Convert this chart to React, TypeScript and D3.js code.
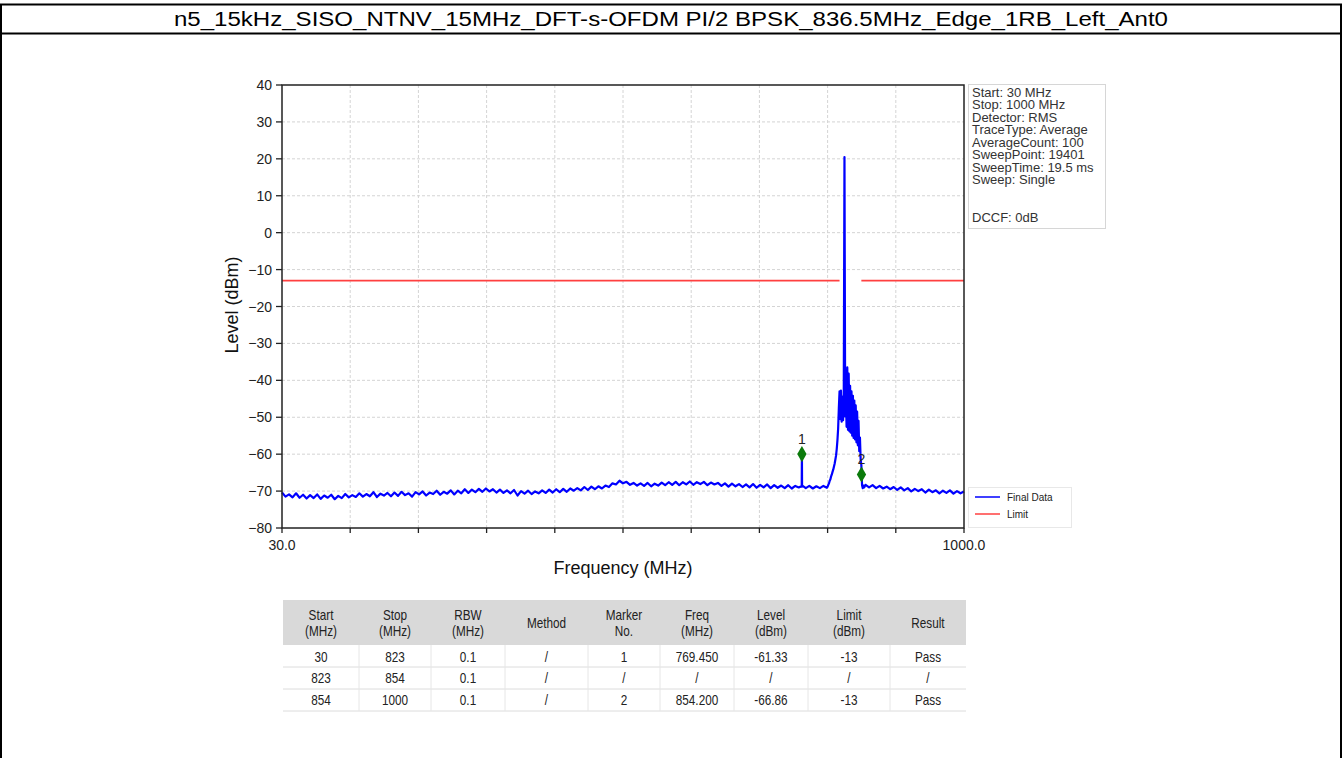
import * as d3 from "d3";
import React from "react";

const W = 1343;
const H = 758;

const title =
  "n5_15kHz_SISO_NTNV_15MHz_DFT-s-OFDM PI/2 BPSK_836.5MHz_Edge_1RB_Left_Ant0";

// noise floor 30..805 MHz, one reading every 5 MHz
const floorLow = [
  -70.4, -71.5, -70.9, -71.7, -70.6, -71.8, -71.0, -72.0, -71.1, -71.9,
  -70.9, -72.1, -71.2, -71.8, -71.0, -72.2, -71.3, -71.9, -70.8, -71.7,
  -71.1, -71.6, -70.6, -71.5, -70.8, -71.4, -70.3, -71.6, -70.7, -71.2,
  -70.5, -71.4, -70.4, -71.3, -70.2, -71.1, -70.6, -71.5, -70.3, -70.9,
  -70.1, -71.2, -70.4, -70.8, -69.9, -71.0, -70.2, -70.7, -69.8, -70.9,
  -69.9, -70.6, -69.5, -70.5, -69.6, -70.3, -69.4, -70.2, -69.3, -70.1,
  -69.5, -70.4, -69.6, -70.5, -69.8, -70.6, -69.7, -71.2, -70.0, -70.7,
  -69.9, -70.8, -70.1, -70.6, -69.8, -70.5, -69.6, -70.4, -69.5, -70.3,
  -69.4, -70.2, -69.3, -69.9, -69.2, -69.8, -68.9, -69.7, -68.8, -69.5,
  -68.7, -69.3, -68.5, -68.9, -67.9, -68.2, -67.2, -67.9, -67.5, -68.3,
  -67.8, -68.5, -67.9, -68.6, -67.8, -68.7, -68.0, -68.5, -67.7, -68.4,
  -67.6, -68.3, -67.5, -68.4, -67.6, -68.2, -67.4, -68.3, -67.6, -68.1,
  -67.5, -68.4, -67.7, -68.2, -67.8, -68.6, -67.9, -68.8, -68.0, -68.7,
  -68.1, -68.9, -68.2, -69.0, -68.1, -69.1, -68.3, -69.0, -68.2, -69.2,
  -68.4, -69.1, -68.5, -69.2, -68.4, -69.3, -68.6, -69.0, -68.5, -69.2,
  -68.6, -69.3, -68.7, -69.2, -68.6, -69.1,
];
const floorLowStart = 30;
const floorLowStep = 5;

// signal band 806..858 MHz, 1 MHz step
const signalBand = [
  -68.8, -68.3, -67.9, -67.2, -66.8, -66.0, -65.5, -64.8, -64.2, -63.4,
  -62.6, -61.5, -60.4, -58.6, -56.2, -53.0, -47.5, -43.0, -50.5, -42.8,
  -51.2, -44.5, -50.8, -43.6, 20.5, -49.8, -44.2, -52.6, -36.5, -53.4,
  -38.2, -53.8, -41.5, -54.2, -43.0, -55.0, -44.2, -55.6, -45.5, -56.0,
  -46.8, -56.8, -48.5, -57.6, -51.0, -59.2, -55.5, -61.4, -63.0, -68.4,
  -69.2, -68.5, -69.0,
];
const signalStart = 806;
const signalStep = 1;

// noise floor 860..1000 MHz, 5 MHz step
const floorHigh = [
  -68.3, -69.0, -68.4, -69.2, -68.6, -69.3, -68.8, -69.5, -68.9, -69.7,
  -69.0, -69.8, -69.2, -70.1, -69.4, -70.0, -69.5, -70.4, -69.6, -70.3,
  -69.8, -70.6, -69.9, -70.5, -69.8, -70.7, -70.0, -70.6, -70.1,
];
const floorHighStart = 860;
const floorHighStep = 5;

// narrow spur at marker 1
const spurFreq = [769.2, 769.45, 769.7];
const spurLevel = [-68.7, -59.8, -68.8];

const limitStart = [30, 854];
const limitStop = [823, 1000];
const limitLevel = -13;

const markerNo = ["1", "2"];
const markerFreq = [769.45, 854.2];
const markerLevel = [-61.33, -66.86];

const xTickValues = [30, 127, 224, 321, 418, 515, 612, 709, 806, 903, 1000];
const xTickLabels = ["30.0", "", "", "", "", "", "", "", "", "", "1000.0"];
const yTickValues = [-80, -70, -60, -50, -40, -30, -20, -10, 0, 10, 20, 30, 40];

const infoLines = [
  "Start: 30 MHz",
  "Stop: 1000 MHz",
  "Detector: RMS",
  "TraceType: Average",
  "AverageCount: 100",
  "SweepPoint: 19401",
  "SweepTime: 19.5 ms",
  "Sweep: Single",
  "",
  "",
  "DCCF: 0dB",
];

const legendNames = ["Final Data", "Limit"];
const legendColors = ["#0000ff", "#ff4040"];

const tableHeader = [
  ["Start", "(MHz)"],
  ["Stop", "(MHz)"],
  ["RBW", "(MHz)"],
  ["Method"],
  ["Marker", "No."],
  ["Freq", "(MHz)"],
  ["Level", "(dBm)"],
  ["Limit", "(dBm)"],
  ["Result"],
];
const tableRows = [
  ["30", "823", "0.1", "/", "1", "769.450", "-61.33", "-13", "Pass"],
  ["823", "854", "0.1", "/", "/", "/", "/", "/", "/"],
  ["854", "1000", "0.1", "/", "2", "854.200", "-66.86", "-13", "Pass"],
];

const FONT = "'Liberation Sans', Arial, Helvetica, sans-serif";

const plot = { left: 282, right: 964, top: 85, bottom: 528 };
const x = d3.scaleLinear().domain([30, 1000]).range([plot.left, plot.right]);
const y = d3.scaleLinear().domain([-80, 40]).range([plot.bottom, plot.top]);

type Pt = [number, number];
const trace: Pt[] = [
  ...floorLow.map((v, i) => [floorLowStart + i * floorLowStep, v] as Pt),
  ...spurFreq.map((f, i) => [f, spurLevel[i]] as Pt),
  ...signalBand.map((v, i) => [signalStart + i * signalStep, v] as Pt),
  ...floorHigh.map((v, i) => [floorHighStart + i * floorHighStep, v] as Pt),
].sort((a, b) => a[0] - b[0]);

const traceLine = d3
  .line<Pt>()
  .x((d) => x(d[0]))
  .y((d) => y(d[1]));

// matplotlib-style minus sign on tick labels
const fmtTick = (t: number) => (t < 0 ? "\u2212" + Math.abs(t) : String(t));

// table layout
const colEdges = [283, 359, 431, 505, 588, 660, 734, 808, 890, 966];
const headTop = 600;
const headBottom = 645;
const rowY = [657, 678, 700];
const rowLines = [667, 689, 711];

function Cell({ cx, cy, text }: { cx: number; cy: number; text: string }) {
  // condensed look of the report font
  return (
    <text transform={`translate(${cx},${cy}) scale(0.84,1)`} textAnchor="middle">
      {text}
    </text>
  );
}

export default function App() {
  const diamond = d3.symbol().type(d3.symbolDiamond).size(75)() as string;
  return (
    <svg
      width={W}
      height={H}
      viewBox={`0 0 ${W} ${H}`}
      style={{ position: "absolute", left: 0, top: 0, background: "#fff" }}
      fontFamily={FONT}
    >
      {/* page frame and title */}
      <rect x={1} y={4.5} width={1340} height={H} fill="none" stroke="#000" strokeWidth={2} />
      <line x1={1} x2={1341} y1={33.5} y2={33.5} stroke="#000" strokeWidth={2} />
      <text
        x={671}
        y={26}
        textAnchor="middle"
        fontSize={20}
        textLength={994}
        lengthAdjust="spacingAndGlyphs"
      >
        {title}
      </text>

      {/* grid */}
      <g stroke="#d4d4d4" strokeWidth={1} strokeDasharray="3,2">
        {xTickValues.slice(1, -1).map((t) => (
          <line key={"gx" + t} x1={x(t)} x2={x(t)} y1={plot.top} y2={plot.bottom} />
        ))}
        {yTickValues.slice(1, -1).map((t) => (
          <line key={"gy" + t} x1={plot.left} x2={plot.right} y1={y(t)} y2={y(t)} />
        ))}
      </g>

      {/* limit */}
      {limitStart.map((s, i) => (
        <line
          key={"lim" + i}
          x1={x(s)}
          x2={x(limitStop[i])}
          y1={y(limitLevel)}
          y2={y(limitLevel)}
          stroke={legendColors[1]}
          strokeWidth={1.8}
        />
      ))}

      {/* trace */}
      <path d={traceLine(trace) ?? ""} fill="none" stroke="#0000ff" strokeWidth={2.2} strokeLinejoin="round" />

      {/* markers (glyph anchored slightly above the reading, as in the report) */}
      {markerNo.map((m, i) => (
        <g key={"mk" + m} transform={`translate(${x(markerFreq[i])},${y(markerLevel[i]) - 5})`}>
          <path d={diamond} fill="#0b7a0b" />
          <text y={-10} textAnchor="middle" fontSize={14} fill="#222">
            {m}
          </text>
        </g>
      ))}

      {/* axes frame */}
      <rect
        x={plot.left}
        y={plot.top}
        width={plot.right - plot.left}
        height={plot.bottom - plot.top}
        fill="none"
        stroke="#222"
        strokeWidth={1.5}
      />
      {yTickValues.map((t) => (
        <g key={"yt" + t}>
          <line x1={plot.left - 6} x2={plot.left} y1={y(t)} y2={y(t)} stroke="#222" strokeWidth={1.3} />
          <text x={plot.left - 10} y={y(t) + 5} textAnchor="end" fontSize={14} fill="#222">
            {fmtTick(t)}
          </text>
        </g>
      ))}
      {xTickValues.map((t, i) => (
        <g key={"xt" + t}>
          <line x1={x(t)} x2={x(t)} y1={plot.bottom} y2={plot.bottom + 5} stroke="#222" strokeWidth={1.3} />
          {xTickLabels[i] && (
            <text x={x(t)} y={plot.bottom + 22} textAnchor="middle" fontSize={14} fill="#222">
              {xTickLabels[i]}
            </text>
          )}
        </g>
      ))}
      <text x={623} y={574} textAnchor="middle" fontSize={18} fill="#111">
        Frequency (MHz)
      </text>
      <text
        transform="translate(238,305) rotate(-90)"
        textAnchor="middle"
        fontSize={18}
        fill="#111"
      >
        Level (dBm)
      </text>

      {/* info box */}
      <rect x={968.5} y={84.5} width={137} height={144} fill="#fff" stroke="#d6d6d6" />
      {infoLines.map((s, i) => (
        <text key={"inf" + i} x={972} y={96.5 + i * 12.5} fontSize={13} fill="#333">
          {s}
        </text>
      ))}

      {/* legend */}
      <rect x={968.5} y={487.5} width={103} height={40} fill="#fff" stroke="#e8e8e8" />
      {legendNames.map((n, i) => (
        <g key={"lg" + n} transform={`translate(975,${497 + i * 17})`}>
          <line x1={0} x2={25} y1={0} y2={0} stroke={legendColors[i]} strokeWidth={1.5} />
          <text x={32} y={3.5} fontSize={10} fill="#222">
            {n}
          </text>
        </g>
      ))}

      {/* result table */}
      <g fontSize={14} fill="#222">
        <rect x={colEdges[0]} y={headTop} width={colEdges[9] - colEdges[0]} height={headBottom - headTop} fill="#d9d9d9" />
        {tableHeader.map((h, c) => {
          const cx = (colEdges[c] + colEdges[c + 1]) / 2;
          return h.length === 2 ? (
            <g key={"th" + c}>
              <Cell cx={cx} cy={620} text={h[0]} />
              <Cell cx={cx} cy={636} text={h[1]} />
            </g>
          ) : (
            <Cell key={"th" + c} cx={cx} cy={628} text={h[0]} />
          );
        })}
        {rowLines.map((ly, i) => (
          <line key={"rl" + i} x1={colEdges[0]} x2={colEdges[9]} y1={ly} y2={ly} stroke="#dcdcdc" />
        ))}
        {colEdges.slice(1, -1).map((cx, i) => (
          <line key={"cl" + i} x1={cx} x2={cx} y1={headBottom} y2={rowLines[2]} stroke="#e6e6e6" />
        ))}
        {tableRows.map((r, ri) =>
          r.map((v, c) => (
            <Cell
              key={`td${ri}-${c}`}
              cx={(colEdges[c] + colEdges[c + 1]) / 2}
              cy={rowY[ri] + 5}
              text={v}
            />
          ))
        )}
      </g>
    </svg>
  );
}
